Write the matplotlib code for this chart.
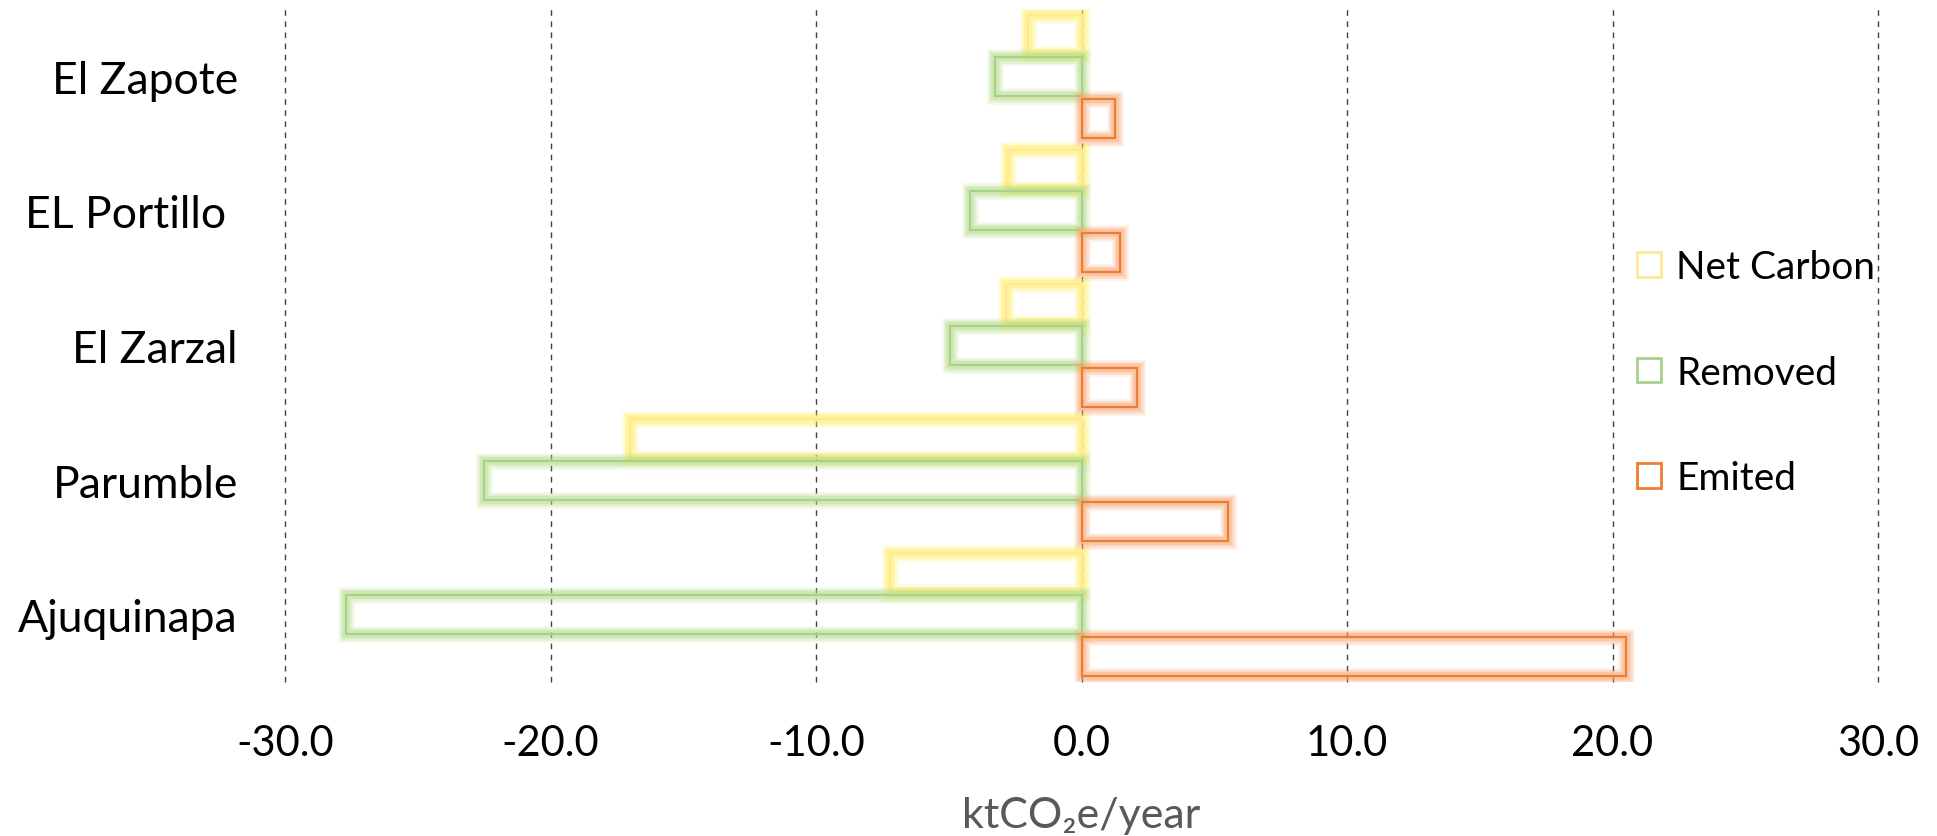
import matplotlib.pyplot as plt
import matplotlib.patheffects as pe
from matplotlib.patches import Patch
import numpy as np

# categories bottom -> top
sites = ["Ajuquinapa", "Parumble", "El Zarzal", "EL Portillo ", "El Zapote"]
emited = [20.5, 5.5, 2.1, 1.45, 1.25]
removed = [-27.7, -22.5, -4.95, -4.2, -3.25]
net_carbon = [-7.2, -17.0, -2.85, -2.75, -2.0]

series_names = ["Net Carbon", "Removed", "Emited"]
line_colors = ["#FFE699", "#A9D18E", "#ED7D31"]
glow_colors = ["#FFEE55", "#B0DC80", "#F9A066"]

plt.rcParams['font.family'] = ['Lato', 'DejaVu Sans']

fig = plt.figure(figsize=(19.37, 8.37), dpi=100)
ax = fig.add_axes([285 / 1937, 1 - 683 / 837, (1878 - 285) / 1937, 673 / 837])

y = np.arange(len(sites))
h = 0.29
step = 0.31
offsets = [step, 0.0, -step]

for vals, off, lc, gc in zip([net_carbon, removed, emited], offsets, line_colors, glow_colors):
    bars = ax.barh(y + off, vals, height=h, facecolor="none", edgecolor=lc, linewidth=1.6, zorder=3)
    for b in bars:
        b.set_path_effects([
            pe.Stroke(linewidth=12, foreground=gc, alpha=0.15),
            pe.Stroke(linewidth=9, foreground=gc, alpha=0.25),
            pe.Stroke(linewidth=6, foreground=gc, alpha=0.35),
            pe.Normal(),
        ])

ax.set_xlim(-30, 30)
ax.set_ylim(-0.5, 4.5)
ax.set_xticks(np.arange(-30, 31, 10))
ax.set_xticklabels([f"{v:.1f}" for v in np.arange(-30, 31, 10)], fontsize=30)
ax.set_yticks(y)
ax.set_yticklabels(sites, fontsize=32)
ax.tick_params(axis="y", length=0, pad=34)
ax.tick_params(axis="x", length=0, pad=30)
for s in ax.spines.values():
    s.set_visible(False)
ax.grid(axis="x", linestyle=(0, (4, 4)), color="#404040", linewidth=1.0, clip_on=False)
ax.set_axisbelow(True)

ax.set_xlabel("ktCO₂e/year", fontsize=31, color="#595959", labelpad=25)

handles = [Patch(facecolor="white", edgecolor=c, linewidth=2) for c in line_colors]
fig.legend(handles, series_names, loc="upper left", bbox_to_anchor=(1618 / 1937, 1 - 231 / 837),
           frameon=False, fontsize=28, handlelength=0.6, handleheight=0.6,
           labelspacing=1.78, handletextpad=0.4, borderpad=0)

fig.savefig("out.png", dpi=100)
